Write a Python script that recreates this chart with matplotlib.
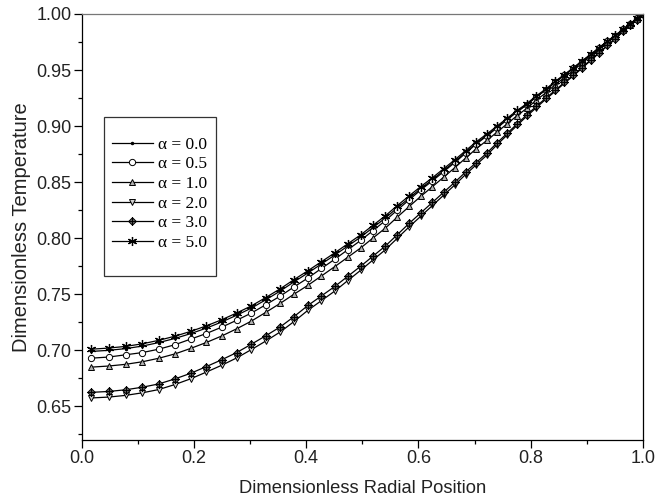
import numpy as np
import matplotlib
matplotlib.use("Agg")
import matplotlib.pyplot as plt
from matplotlib.path import Path
from matplotlib.patches import Rectangle
from matplotlib.ticker import MultipleLocator

# radial grid
r = [0.017, 0.048, 0.078, 0.108, 0.137, 0.166, 0.194, 0.222, 0.249, 0.276,
     0.302, 0.328, 0.354, 0.378, 0.403, 0.427, 0.451, 0.474, 0.497, 0.519,
     0.541, 0.562, 0.584, 0.604, 0.625, 0.645, 0.665, 0.684, 0.703, 0.722,
     0.740, 0.758, 0.776, 0.793, 0.810, 0.827, 0.844, 0.860, 0.876, 0.891,
     0.907, 0.922, 0.937, 0.951, 0.965, 0.977, 0.989, 1.000]

t_a00 = [0.699, 0.700, 0.7015, 0.7038, 0.7069, 0.7106, 0.7149, 0.7198, 0.7252, 0.7313,
         0.7376, 0.7451, 0.753, 0.761, 0.769, 0.777, 0.785, 0.793, 0.801, 0.8095,
         0.818, 0.827, 0.836, 0.8443, 0.8523, 0.8604, 0.8685, 0.8766, 0.8847, 0.8918,
         0.8989, 0.906, 0.9131, 0.9192, 0.9262, 0.9323, 0.9393, 0.9454, 0.9515, 0.9576,
         0.9637, 0.9698, 0.9758, 0.9808, 0.9864, 0.991, 0.996, 1.0]
t_a05 = [0.693, 0.694, 0.696, 0.698, 0.701, 0.705, 0.710, 0.715, 0.7206, 0.7268,
         0.7332, 0.7407, 0.7485, 0.7565, 0.7645, 0.773, 0.7813, 0.7897, 0.798, 0.8068,
         0.8157, 0.825, 0.8345, 0.843, 0.8512, 0.8594, 0.8676, 0.8758, 0.884, 0.8912,
         0.8984, 0.9056, 0.9128, 0.9189, 0.926, 0.9321, 0.9392, 0.9453, 0.9514, 0.9575,
         0.9636, 0.9697, 0.9758, 0.9808, 0.9864, 0.991, 0.996, 1.0]
t_a10 = [0.685, 0.686, 0.6875, 0.6898, 0.6929, 0.6968, 0.7017, 0.707, 0.7127, 0.7192,
         0.726, 0.7339, 0.742, 0.750, 0.758, 0.7663, 0.7747, 0.783, 0.7913, 0.8002,
         0.809, 0.8187, 0.8285, 0.8373, 0.846, 0.8545, 0.863, 0.8714, 0.8798, 0.8872,
         0.8946, 0.902, 0.9094, 0.9158, 0.9232, 0.9296, 0.937, 0.9433, 0.9496, 0.9559,
         0.9622, 0.9685, 0.9748, 0.9801, 0.9859, 0.9906, 0.9958, 1.0]
t_a20 = [0.6575, 0.6583, 0.6598, 0.6621, 0.665, 0.6695, 0.6746, 0.6806, 0.6866, 0.6932,
         0.7006, 0.7083, 0.7165, 0.7256, 0.7357, 0.7443, 0.7529, 0.7622, 0.7714, 0.7806,
         0.7897, 0.7998, 0.8104, 0.8195, 0.8292, 0.8384, 0.8476, 0.8568, 0.8655, 0.8741,
         0.8833, 0.892, 0.9007, 0.9088, 0.9164, 0.924, 0.9311, 0.9382, 0.9448, 0.9514,
         0.9585, 0.9651, 0.9717, 0.9778, 0.9844, 0.9897, 0.995, 1.0]
t_a30 = [0.6625, 0.6633, 0.6648, 0.6671, 0.670, 0.6745, 0.6795, 0.6855, 0.6915, 0.698,
         0.7054, 0.713, 0.721, 0.730, 0.740, 0.7485, 0.757, 0.766, 0.775, 0.784,
         0.793, 0.803, 0.8135, 0.8225, 0.832, 0.841, 0.850, 0.859, 0.8675, 0.876,
         0.885, 0.8935, 0.902, 0.910, 0.9175, 0.925, 0.932, 0.939, 0.9455, 0.952,
         0.959, 0.9655, 0.972, 0.978, 0.9845, 0.9898, 0.995, 1.0]
t_a50 = [0.701, 0.702, 0.7035, 0.7058, 0.7089, 0.7126, 0.7169, 0.7218, 0.7272, 0.7333,
         0.7396, 0.7471, 0.755, 0.763, 0.771, 0.779, 0.787, 0.795, 0.803, 0.8115,
         0.820, 0.829, 0.838, 0.846, 0.854, 0.862, 0.870, 0.878, 0.886, 0.893,
         0.900, 0.907, 0.914, 0.920, 0.927, 0.933, 0.940, 0.946, 0.952, 0.958,
         0.964, 0.970, 0.976, 0.981, 0.9865, 0.991, 0.996, 1.0]

labels = ["α = 0.0", "α = 0.5", "α = 1.0", "α = 2.0", "α = 3.0", "α = 5.0"]

# diamond with a cross inside
diamond_plus = Path(
    [(0, 1), (1, 0), (0, -1), (-1, 0), (0, 1), (0, 1), (0, -1), (-1, 0), (1, 0)],
    [Path.MOVETO, Path.LINETO, Path.LINETO, Path.LINETO, Path.CLOSEPOLY,
     Path.MOVETO, Path.LINETO, Path.MOVETO, Path.LINETO])

fig = plt.figure(figsize=(6.6, 5.0), dpi=100)
ax = fig.add_axes([0.124, 0.12, 0.85, 0.852])

lw = 0.9
ax.plot(r, t_a00, color="k", lw=lw, marker="o", ms=1.5, label=labels[0])
ax.plot(r, t_a05, color="k", lw=lw, marker="o", ms=4.5, mfc="white", mec="k",
        mew=0.7, label=labels[1])
ax.plot(r, t_a10, color="k", lw=lw, marker="^", ms=4.5, mfc="#b0b0b0", mec="k",
        mew=0.7, label=labels[2])
ax.plot(r, t_a20, color="k", lw=lw, marker="v", ms=4.5, mfc="#d0d0d0", mec="k",
        mew=0.7, label=labels[3])
ax.plot(r, t_a30, color="k", lw=lw, marker=diamond_plus, ms=5.5, mfc="#606060",
        mec="k", mew=0.7, label=labels[4])
ax.plot(r, t_a50, color="k", lw=lw, marker=(6, 2, 0), ms=6.5, mec="k",
        mew=0.9, label=labels[5])

ax.set_xlim(0.0, 1.0)
ax.set_ylim(0.62, 1.0)
ax.xaxis.set_major_locator(MultipleLocator(0.2))
ax.xaxis.set_minor_locator(MultipleLocator(0.1))
ax.yaxis.set_major_locator(MultipleLocator(0.05))
ax.yaxis.set_minor_locator(MultipleLocator(0.025))
ax.xaxis.set_major_formatter(plt.FormatStrFormatter("%.1f"))
ax.yaxis.set_major_formatter(plt.FormatStrFormatter("%.2f"))
ax.tick_params(which="both", direction="out", top=False, right=False,
               labelsize=13, width=0.9, colors="k", pad=2)
ax.tick_params(which="major", length=5.5)
ax.tick_params(which="minor", length=3)
for lab in ax.get_xticklabels() + ax.get_yticklabels():
    lab.set_fontfamily("Liberation Sans")
    lab.set_color("#222222")
for s in ax.spines.values():
    s.set_linewidth(0.9)
ax.spines["top"].set_color("#777777")

ax.set_xlabel("Dimensionless Radial Position", fontsize=13.2,
              fontfamily="Liberation Sans", color="#222222", labelpad=9)
ax.set_ylabel("Dimensionless Temperature", fontsize=14.5,
              fontfamily="Liberation Sans", color="#222222", labelpad=4)

# legend frame drawn separately (taller padding than the entries need)
ax.add_patch(Rectangle((0.0397, 0.3857), 0.1992, 0.3733, transform=ax.transAxes,
                       facecolor="white", edgecolor="#333333", lw=0.9, zorder=4))
leg = ax.legend(loc="center left", bbox_to_anchor=(0.053, 0.578),
                borderaxespad=0, borderpad=0, frameon=False,
                handlelength=2.4, handletextpad=0.3, labelspacing=0.2,
                prop={"family": "Liberation Serif", "size": 12.5})
leg.set_zorder(5)

fig.savefig("out.png", dpi=100)
